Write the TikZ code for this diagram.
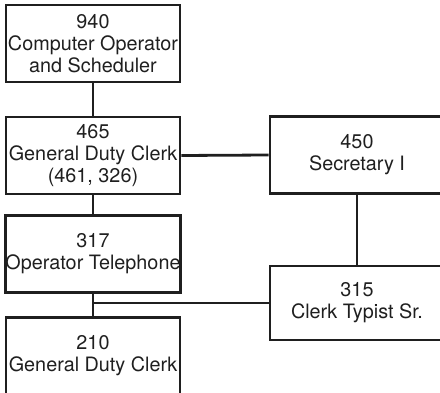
\documentclass[tikz,border=0pt]{standalone}
\usepackage{fontspec}
\setmainfont{TeX Gyre Heros}
\begin{document}
\begin{tikzpicture}[x=1pt,y=-1pt,
  jobbox/.style={draw=black!88, text=black!88, line width=2.8pt,
    minimum width=174pt, minimum height=77pt, inner sep=0pt, align=center,
    font=\fontsize{19.8}{22}\selectfont},
  jobline/.style={draw=black!88, line width=2.8pt}]
\useasboundingbox (0,0) rectangle (440,393);
\clip (0,0) rectangle (440,393);

% left column
\node[jobbox] (n940) at (93,43.5) {940\\Computer Operator\\and Scheduler};
\node[jobbox] (n465) at (93,155.5) {465\\General Duty Clerk\\(461, 326)};
\node[jobbox] (n317) at (93,254) {317\\Operator Telephone};
\node[jobbox] (n210) at (93,356) {210\\General Duty Clerk};

% right column
\node[jobbox] (n450) at (357,155) {450\\Secretary I};
\node[jobbox, minimum height=74pt] (n315) at (357,303) {315\\Clerk Typist Sr.};

% reporting lines
\draw[jobline] (n940.south) -- (n465.north);
\draw[jobline] (n465.south) -- (n317.north);
\draw[jobline] (n317.south) -- (n210.north);
\draw[jobline] (n465.east) -- (n450.west);
\draw[jobline] (n450.south) -- (n315.north);
\coordinate (branch) at (n317.south |- n315.west);
\draw[jobline] (branch) -- (n315.west);
\end{tikzpicture}
\end{document}
